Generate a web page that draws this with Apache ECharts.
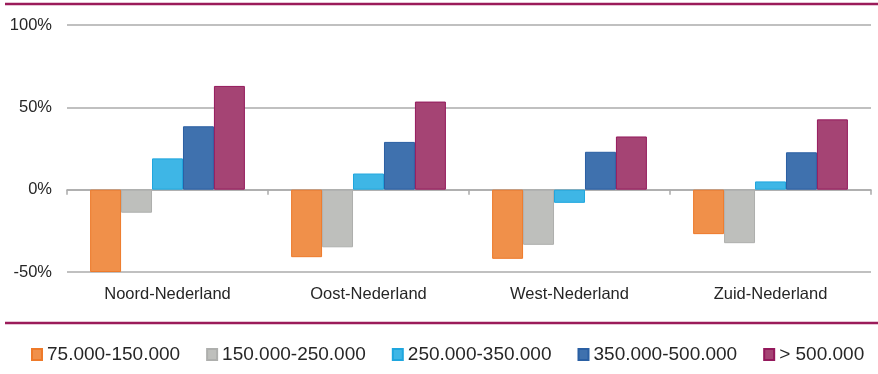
<!DOCTYPE html>
<html>
<head>
<meta charset="utf-8">
<title>Prijsontwikkeling per regio</title>
<script src="https://cdn.jsdelivr.net/npm/echarts@6/dist/echarts.min.js"></script>
<style>
  html, body { margin: 0; padding: 0; background: #fff; }
  #main { width: 878px; height: 374px; }
</style>
</head>
<body>
<div id="main"></div>
<script type="text/javascript">
// regio's
var regios = ['Noord-Nederland', 'Oost-Nederland', 'West-Nederland', 'Zuid-Nederland'];
// prijsklassen (legenda)
var klassen = ['75.000-150.000', '150.000-250.000', '250.000-350.000', '350.000-500.000', '> 500.000'];
// waarden in %, per prijsklasse
var k75 = [-50, -41, -42, -27];
var k150 = [-14, -35, -33.5, -32.5];
var k250 = [19, 9.8, -8, 5];
var k350 = [38.5, 29, 23, 22.7];
var k500 = [63, 53.5, 32.3, 42.7];
var yTicks = [-50, 0, 50, 100];

var kleuren = ['#F0904A', '#BEBFBC', '#3EB6E6', '#3F71AE', '#A54474'];
var randen = ['#EE7A2A', '#AEAFAD', '#1FA6DE', '#2A5FA3', '#94195C'];
var reeksen = [k75, k150, k250, k350, k500];

var myChart = echarts.init(document.getElementById('main'));

var series = reeksen.map(function (d, i) {
    return {
        name: klassen[i],
        type: 'bar',
        data: d,
        xAxisIndex: 0,
        barGap: '0%',
        barCategoryGap: '23%',
        itemStyle: { color: kleuren[i], borderColor: randen[i], borderWidth: 1 },
        emphasis: { disabled: true }
    };
});

myChart.setOption({
    animation: false,
    textStyle: { fontFamily: '"Liberation Sans", Arial, sans-serif' },
    grid: { left: 67, right: 7, top: 25, bottom: 102, containLabel: false },
    legend: {
        data: klassen,
        bottom: 5,
        left: 26,
        itemWidth: 10,
        itemHeight: 11,
        itemGap: 26,
        icon: 'rect',
        textStyle: { fontSize: 19, color: '#262626' }
    },
    xAxis: [
        {
            type: 'category',
            data: regios,
            position: 'bottom',
            axisLine: { onZero: true, lineStyle: { color: '#ABABAB', width: 1.5 } },
            axisTick: { show: true, length: 5, lineStyle: { color: '#ABABAB', width: 1.5 } },
            axisLabel: { show: false }
        },
        {
            type: 'category',
            data: regios,
            position: 'bottom',
            axisLine: { show: false, onZero: false },
            axisTick: { show: false },
            axisLabel: { fontSize: 16.5, color: '#262626', margin: 14 }
        }
    ],
    yAxis: {
        type: 'value',
        min: -50,
        max: 100,
        interval: 50,
        axisLine: { show: false },
        axisTick: { show: false },
        axisLabel: {
            fontSize: 16.5,
            color: '#262626',
            margin: 15,
            formatter: function (v) { return yTicks.indexOf(v) >= 0 ? v + '%' : ''; }
        },
        splitLine: { lineStyle: { color: '#ABABAB', width: 1.5 } }
    },
    graphic: [
        { type: 'line', shape: { x1: 5, y1: 4, x2: 878, y2: 4 }, style: { stroke: '#9B1B5A', lineWidth: 2.5 } },
        { type: 'line', shape: { x1: 5, y1: 323, x2: 878, y2: 323 }, style: { stroke: '#9B1B5A', lineWidth: 2.5 } }
    ],
    series: series
});
</script>
</body>
</html>
